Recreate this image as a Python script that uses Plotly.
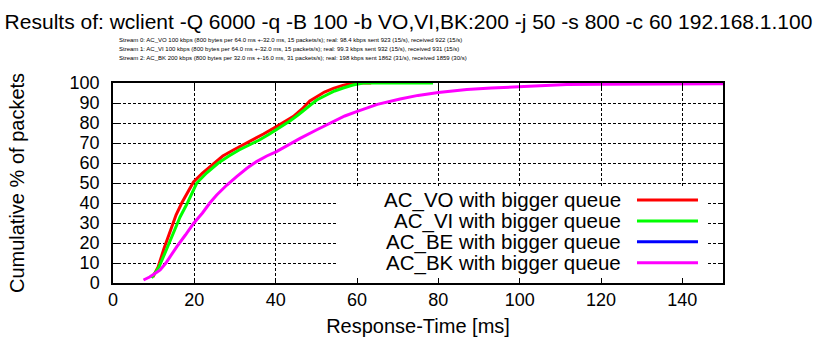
import plotly.graph_objects as go

# Response-time CDFs (ms, cumulative %)
vo_x = [9.8, 11.1, 12.5, 14.0, 15.5, 16.9, 18.5, 19.8, 22.0, 24.7, 27.0, 29.6, 32.0, 34.5,
        37.0, 40.2, 42.5, 44.3, 46.5, 48.4, 50.0, 52.0, 54.2, 56.5, 59.1, 63.5]
vo_y = [3, 8, 17, 26, 34, 40, 46, 50.5, 55, 59.8, 63.5, 66.5, 69, 71.5,
        74.5, 78.2, 81, 83.2, 87, 91, 93, 95.5, 97.3, 98.8, 100, 100]

vi_x = [9.5, 11.3, 13.0, 14.8, 16.5, 18.3, 19.5, 20.6, 23.0, 25.9, 28.5, 31.0, 33.5, 36.0,
        38.5, 41.3, 43.5, 45.5, 48.0, 50.1, 52.5, 54.5, 56.6, 59.0, 61.5, 78.7]
vi_y = [2.5, 8, 16, 25, 33, 40, 45, 50, 55, 60, 63.5, 66.5, 69, 71.5,
        74.5, 78, 81, 84, 88, 91.5, 94, 96, 97.5, 99, 100, 100]

be_x = []
be_y = []

bk_x = [7.5, 9.0, 10.5, 11.6, 13.0, 14.3, 15.7, 17.8, 19.8, 22.0, 23.8, 25.5, 28.0, 30.4,
        33.0, 35.3, 37.8, 40.2, 43.0, 46.0, 50.0, 54.2, 57.0, 59.9, 65.0, 70.6, 75.0, 80.0,
        87.0, 93.0, 100.0, 106.0, 111.6, 120.0, 133.7, 150.0]
bk_y = [1.5, 3, 5, 6.5, 10, 14, 18.2, 24, 29.8, 35, 40, 44, 49, 53.2,
        57.5, 60.7, 63.5, 65.7, 69, 72.3, 76.5, 80.7, 83.5, 85.7, 89.3, 92, 93.8, 95.3,
        96.8, 97.5, 98.2, 98.8, 99.2, 99.4, 99.5, 99.6]

names = ["AC_VO with bigger queue", "AC_VI with bigger queue",
         "AC_BE with bigger queue", "AC_BK with bigger queue"]
colors = ["#ff0000", "#00ff00", "#0000ff", "#ff00ff"]
series = [(vo_x, vo_y), (vi_x, vi_y), (be_x, be_y), (bk_x, bk_y)]

title = "Results of: wclient -Q 6000 -q -B 100 -b VO,VI,BK:200 -j 50 -s 800 -c 60 192.168.1.100"
streams = [
    "Stream 0: AC_VO 100 kbps (800 bytes per 64.0 ms +-32.0 ms, 15 packets/s); real: 98.4 kbps sent 923 (15/s), received 922 (15/s)",
    "Stream 1: AC_VI 100 kbps (800 bytes per 64.0 ms +-32.0 ms, 15 packets/s); real: 99.3 kbps sent 932 (15/s), received 931 (15/s)",
    "Stream 2: AC_BK 200 kbps (800 bytes per 32.0 ms +-16.0 ms, 31 packets/s); real: 198 kbps sent 1862 (31/s), received 1859 (30/s)",
]

FONT = "Liberation Sans"

fig = go.Figure()
for (xs, ys), name, col in zip(series, names, colors):
    fig.add_trace(go.Scatter(x=xs, y=ys, mode="lines", name=name,
                             line=dict(color=col, width=3), showlegend=False))

# opaque key box hiding the grid behind the key
fig.add_shape(type="rect", xref="x", yref="y", x0=55.3, x1=146.1, y0=0, y1=47.5,
              fillcolor="white", line=dict(width=0), layer="between")

# key: right-aligned labels with line samples on the right
key_y = [0.415, 0.31, 0.2065, 0.1015]
for name, col, ky in zip(names, colors, key_y):
    fig.add_annotation(x=0.836, y=ky, xref="paper", yref="paper", text=name,
                       showarrow=False, xanchor="right", yanchor="middle",
                       font=dict(family=FONT, size=20.5, color="black"))
    fig.add_shape(type="line", xref="paper", yref="paper", x0=0.859, x1=0.959,
                  y0=ky, y1=ky, line=dict(color=col, width=3))

for i, s in enumerate(streams):
    fig.add_annotation(x=0.0066, y=1.215 - i * 0.045, xref="paper", yref="paper", text=s,
                       showarrow=False, xanchor="left", yanchor="middle",
                       font=dict(family=FONT, size=6, color="black"))

axis_common = dict(
    showline=True, linecolor="black", linewidth=1.5, mirror="ticks",
    ticks="inside", ticklen=5, tickcolor="black", tickwidth=1,
    showgrid=True, gridcolor="black", gridwidth=1, griddash="3px,2px",
    zeroline=False, tickfont=dict(family=FONT, size=18, color="black"),
)

fig.update_layout(
    width=817, height=346,
    margin=dict(l=113, r=94, t=83, b=63),
    paper_bgcolor="white", plot_bgcolor="white",
    title=dict(text=title, x=0.5, xref="container", xanchor="center",
               y=1 - 22 / 346, yref="container", yanchor="middle",
               font=dict(family=FONT, size=21, color="black")),
    xaxis=dict(range=[0, 150], dtick=20, tick0=0,
               title=dict(text="Response-Time [ms]", standoff=10,
                          font=dict(family=FONT, size=20, color="black")),
               **axis_common),
    yaxis=dict(range=[0, 100], dtick=10, tick0=0, ticklabelstandoff=8,
               title=dict(text="Cumulative % of packets", standoff=40,
                          font=dict(family=FONT, size=20, color="black")),
               **axis_common),
    showlegend=False,
)

fig.write_html("out.html")
